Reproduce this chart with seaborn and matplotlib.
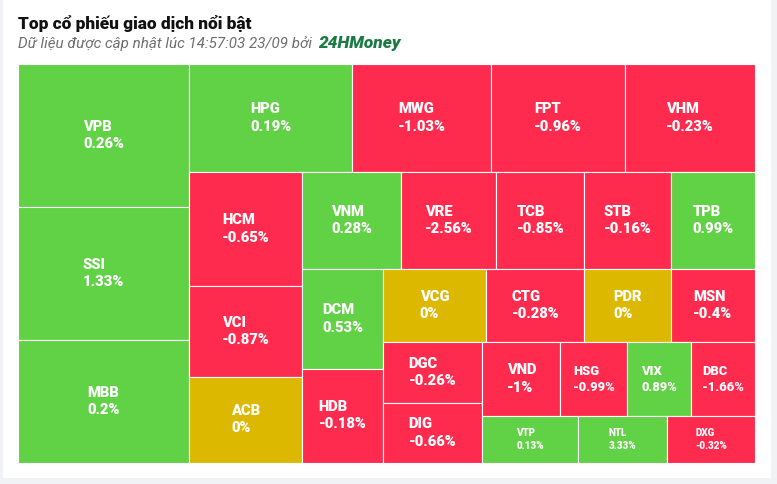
import math
import matplotlib
matplotlib.use("Agg")
import matplotlib.pyplot as plt
from matplotlib.patches import Rectangle
import seaborn as sns

# du lieu: ma co phieu, gia tri giao dich (ty dong, uoc luong), % thay doi
ma_ck = ["VPB", "SSI", "MBB", "HPG", "MWG", "FPT", "VHM", "HCM", "VCI", "ACB",
         "VNM", "VRE", "TCB", "STB", "TPB", "DCM", "HDB", "VCG", "CTG", "PDR",
         "MSN", "DGC", "DIG", "VND", "HSG", "VIX", "DBC", "VTP", "NTL", "DXG"]
gia_tri = [2445, 2289, 2097, 1760, 1501, 1436, 1408, 1295, 1018, 974,
           960, 930, 856, 841, 820, 803, 758, 756, 713, 633,
           614, 612, 590, 577, 496, 474, 471, 446, 418, 410]
thay_doi = [0.26, 1.33, 0.2, 0.19, -1.03, -0.96, -0.23, -0.65, -0.87, 0,
            0.28, -2.56, -0.85, -0.16, 0.99, 0.53, -0.18, 0, -0.28, 0,
            -0.4, -0.26, -0.66, -1, -0.99, 0.89, -1.66, 0.13, 3.33, -0.32]

tieu_de = "Top cổ phiếu giao dịch nổi bật"
phu_de = "Dữ liệu được cập nhật lúc 14:57:03 23/09 bởi "
nguon = "24HMoney"

XANH = "#61D146"
DO = "#FF2B4F"
VANG = "#DDB800"


def ratio(a, b):
    if math.isnan(a) or math.isnan(b) or a == 0 or b == 0:
        return float("nan")
    return max(a / b, b / a)


class Nhom:
    # nhom hang/cot, cach chia kieu "squarified" doi chieu luan phien
    def __init__(self, h, w, d):
        self.height, self.width, self.direction = h, w, d
        self.total = 0
        self.nW = self.lW = self.nH = self.lH = 0
        self.els = []
        self.nR = self.lR = float("nan")

    def add(self, el):
        last = self.els[-1] if self.els else float("nan")
        self.total += el
        if self.direction == 0:
            self.lW = self.nW
            lh = last / self.lW if self.lW else float("nan")
            self.lR = ratio(self.lW, lh)
            self.nW = self.total / self.height
            nh = last / self.nW
            self.nR = ratio(self.nW, nh)
        else:
            self.lH = self.nH
            lw = last / self.lH if self.lH else float("nan")
            self.lR = ratio(lw, self.lH)
            self.nH = self.total / self.width
            nw = last / self.nH
            self.nR = ratio(nw, self.nH)
        self.els.append(el)

    def reset(self):
        self.nW = self.lW = 0
        self.els = []
        self.total = 0


def squarified(values, x0, y0, width, height):
    tong = sum(values)
    out = []
    plot = [x0, y0]
    g = Nhom(height, width, 0)

    def calc(last):
        gW, gH = (g.nW, g.nH) if last else (g.lW, g.lH)
        keep = None if last else g.els[-1]
        end = len(g.els) - 1
        for i, p in enumerate(g.els):
            if last or i < end:
                if g.direction == 0:
                    pw, ph = gW, p / gW
                else:
                    ph, pw = gH, p / gH
                out.append((plot[0], plot[1], pw, ph))
                if g.direction == 0:
                    plot[1] += ph
                else:
                    plot[0] += pw
        g.reset()
        if g.direction == 0:
            g.width -= gW
        else:
            g.height -= gH
        plot[1] = y0 + (height - g.height)
        plot[0] = x0 + (width - g.width)
        g.direction = 1 - g.direction
        if not last:
            g.add(keep)

    for i, v in enumerate(values):
        g.add(width * height * v / tong)
        if g.nR > g.lR:
            calc(False)
        if i == len(values) - 1:
            calc(True)
    return out


sns.set_style("white")
plt.rcParams["font.family"] = ["Roboto", "DejaVu Sans"]

W, H = 777, 484
fig = plt.figure(figsize=(W / 100, H / 100), dpi=100, facecolor="#F1F2F5")
fig.patches.append(Rectangle((3 / W, 6 / H), 768 / W, 1 - 6 / H, transform=fig.transFigure,
                             facecolor="white", edgecolor="none", zorder=-5))

map_w, map_h = 737, 398.7
ax = fig.add_axes([18 / W, (H - 462.7) / H, map_w / W, map_h / H])
ax.set_xlim(0, map_w)
ax.set_ylim(map_h, 0)
ax.axis("off")

o = squarified(gia_tri, 0, 0, map_w, map_h)
for (x, y, w, h), ma, tdoi in zip(o, ma_ck, thay_doi):
    mau = XANH if tdoi > 0 else (DO if tdoi < 0 else VANG)
    ax.add_patch(Rectangle((x, y), w, h, facecolor=mau, edgecolor="white", linewidth=0.8))
    if h < 50:
        fs, ls = 7.1, 1.4
    elif w < 70:
        fs, ls = 9.3, 1.3
    else:
        fs, ls = 10.6, 1.3
    ax.text(x + w / 2, y + h / 2, f"{ma}\n{tdoi:g}%", ha="center", va="center",
            multialignment="left", color="white", fontsize=fs, fontweight="heavy",
            linespacing=ls)

fig.text(18 / W, 1 - 29.5 / H, tieu_de, fontsize=12.4, fontweight="heavy",
         color="#111111", va="baseline", ha="left")
t = fig.text(18 / W, 1 - 47.7 / H, phu_de, fontsize=10.9, fontstyle="italic",
             color="#6E6E6E", va="baseline", ha="left")
r = fig.canvas.get_renderer()
bb = t.get_window_extent(renderer=r)
fig.text(bb.x1 / W + 2 / W, 1 - 47.7 / H, nguon, fontsize=12.4, fontstyle="italic",
         fontweight="heavy", color="#1D7A45", va="baseline", ha="left")

fig.savefig("out.png", dpi=100, facecolor=fig.get_facecolor())
